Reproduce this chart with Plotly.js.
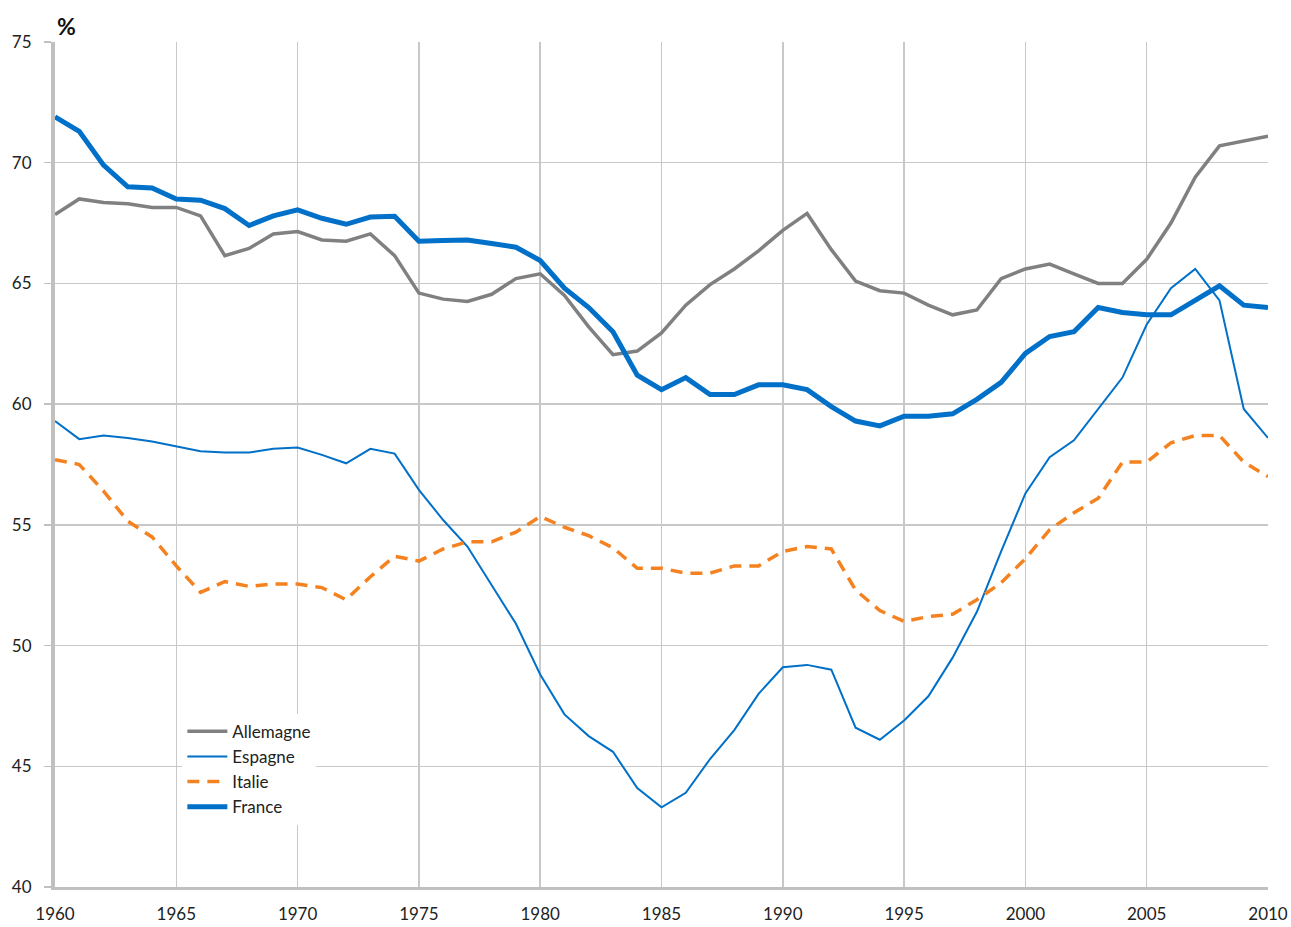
<!DOCTYPE html>
<html>
<head>
<meta charset="utf-8">
<script src="https://cdn.plot.ly/plotly-3.0.1.min.js"></script>
<style>html,body{margin:0;padding:0;background:#fff}#chart{width:1291px;height:927px}</style>
</head>
<body>
<div id="chart"></div>
<script>
const years = [];
for (let y = 1960; y <= 2010; y++) years.push(y);

const allemagne = [67.85,68.5,68.35,68.3,68.15,68.15,67.8,66.15,66.45,67.05,67.15,66.8,66.75,67.05,66.15,64.6,64.35,64.25,64.55,65.2,65.4,64.5,63.2,62.05,62.2,62.95,64.1,64.95,65.6,66.35,67.2,67.9,66.4,65.1,64.7,64.6,64.1,63.7,63.9,65.2,65.6,65.8,65.4,65.0,65.0,66.0,67.5,69.4,70.7,70.9,71.1];
const espagne = [59.3,58.55,58.7,58.6,58.45,58.25,58.05,58.0,58.0,58.15,58.2,57.9,57.55,58.15,57.95,56.45,55.2,54.1,52.5,50.9,48.8,47.15,46.25,45.6,44.1,43.3,43.9,45.3,46.5,48.0,49.1,49.2,49.0,46.6,46.1,46.9,47.9,49.5,51.4,53.9,56.3,57.8,58.5,59.8,61.1,63.3,64.8,65.6,64.3,59.8,58.6];
const italie = [57.7,57.5,56.4,55.15,54.5,53.3,52.2,52.65,52.45,52.55,52.55,52.4,51.9,52.85,53.7,53.5,54.0,54.3,54.3,54.7,55.35,54.9,54.55,54.05,53.2,53.2,53.0,53.0,53.3,53.3,53.9,54.1,54.0,52.3,51.45,51.0,51.2,51.3,51.9,52.6,53.6,54.8,55.5,56.1,57.6,57.6,58.4,58.7,58.7,57.6,57.0];
const france = [71.9,71.3,69.9,69.0,68.95,68.5,68.45,68.1,67.4,67.8,68.05,67.7,67.45,67.75,67.78,66.75,66.78,66.8,66.65,66.5,65.95,64.8,64.0,63.0,61.2,60.6,61.1,60.4,60.4,60.8,60.8,60.6,59.9,59.3,59.1,59.5,59.5,59.6,60.2,60.9,62.1,62.8,63.0,64.0,63.8,63.7,63.7,64.3,64.9,64.1,64.0];

const xTicks = [1960,1965,1970,1975,1980,1985,1990,1995,2000,2005,2010];
const yTicks = [40,45,50,55,60,65,70,75];

const traces = [
  {x: years, y: allemagne, name: 'Allemagne', mode: 'lines', line: {color: '#808080', width: 3.5}},
  {x: years, y: espagne, name: 'Espagne', mode: 'lines', line: {color: '#0070C8', width: 2}},
  {x: years, y: italie, name: 'Italie', mode: 'lines', line: {color: '#F58220', width: 3.5, dash: '12px,8px'}},
  {x: years, y: france, name: 'France', mode: 'lines', line: {color: '#0070C8', width: 5}}
];

const layout = {
  width: 1291, height: 927,
  margin: {l: 55, r: 23, t: 42, b: 40},
  paper_bgcolor: '#fff', plot_bgcolor: '#fff',
  font: {family: 'Lato, "Open Sans", sans-serif', size: 17, color: '#222'},
  showlegend: true,
  legend: {x: 0.105, y: 0.205, xanchor: 'left', yanchor: 'top', bgcolor: '#fff',
           font: {size: 17, color: '#222'}, tracegroupgap: 0, itemwidth: 40},
  xaxis: {range: [1960, 2010], tickvals: xTicks, ticktext: xTicks.map(String),
          showgrid: true, gridcolor: '#c8c8c8', gridwidth: 1.5,
          showline: true, linecolor: '#c0c0c0', linewidth: 3, mirror: false,
          ticks: '', ticklabelstandoff: 10, zeroline: false, fixedrange: true},
  yaxis: {range: [40, 75], tickvals: yTicks, ticktext: yTicks.map(String),
          showgrid: true, gridcolor: '#c8c8c8', gridwidth: 1.5,
          showline: true, linecolor: '#c0c0c0', linewidth: 4,
          ticks: 'outside', ticklen: 7, tickcolor: '#c0c0c0', tickwidth: 1.5,
          ticklabelstandoff: 9, zeroline: false, fixedrange: true},
  annotations: [{text: '<b>%</b>', xref: 'paper', yref: 'paper', x: 0, y: 1, xanchor: 'left', yanchor: 'bottom',
                 showarrow: false, font: {size: 23, color: '#111'}}]
};

Plotly.newPlot('chart', traces, layout, {displayModeBar: false, staticPlot: true});
</script>
</body>
</html>
